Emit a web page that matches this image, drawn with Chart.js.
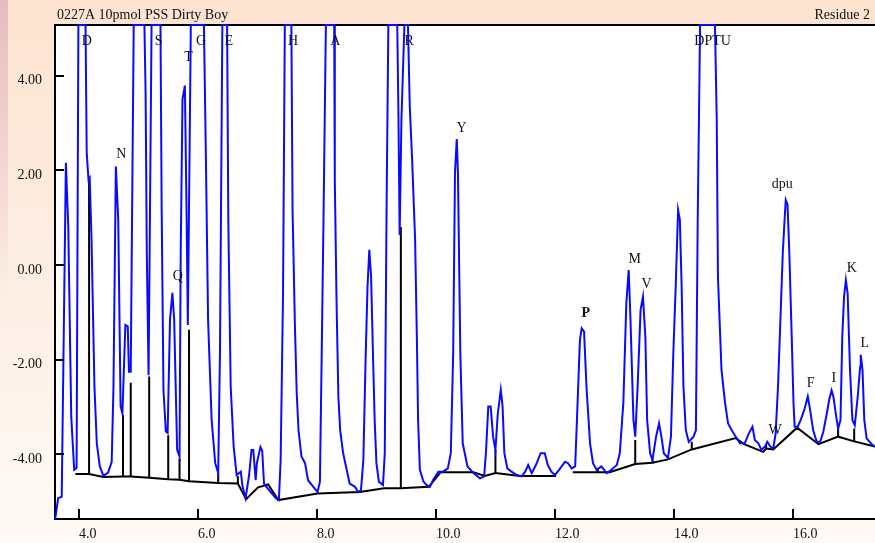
<!DOCTYPE html>
<html>
<head>
<meta charset="utf-8">
<script src="https://cdn.jsdelivr.net/npm/chart.js@4.4.1/dist/chart.umd.min.js"></script>
<style>
  html, body { margin: 0; padding: 0; background: #fff; }
  #wrap { width: 875px; height: 543px; }
</style>
</head>
<body>
<div id="wrap"><canvas id="myChart" width="875" height="543"></canvas></div>
<script>
// chromatogram trace (minutes, signal); 5.07 = saturated / off-scale
const traceX = [
  3.60, 3.65, 3.71, 3.78, 3.82, 3.87, 3.92, 3.96, 3.99, 4.11, 4.13, 4.16, 4.18, 4.21, 4.26, 4.30,
  4.35, 4.41, 4.49, 4.55, 4.58, 4.62, 4.66, 4.70, 4.73, 4.78, 4.82, 4.84, 4.87, 4.92, 5.10, 5.12,
  5.14, 5.17, 5.22, 5.37, 5.39, 5.42, 5.46, 5.49, 5.53, 5.57, 5.60, 5.65, 5.69, 5.71, 5.74, 5.78,
  5.81, 5.83, 5.88, 6.10, 6.13, 6.17, 6.23, 6.29, 6.34, 6.37, 6.41, 6.49, 6.51, 6.55, 6.60, 6.65,
  6.72, 6.75, 6.80, 6.86, 6.90, 6.93, 6.97, 6.99, 7.05, 7.08, 7.11, 7.15, 7.24, 7.31, 7.36, 7.39,
  7.43, 7.46, 7.57, 7.59, 7.63, 7.66, 7.69, 7.74, 7.80, 7.85, 7.94, 8.01, 8.05, 8.08, 8.11, 8.15,
  8.29, 8.30, 8.33, 8.36, 8.39, 8.44, 8.50, 8.55, 8.64, 8.69, 8.74, 8.78, 8.82, 8.85, 8.88, 8.91,
  8.94, 8.97, 9.00, 9.04, 9.11, 9.14, 9.17, 9.20, 9.35, 9.37, 9.39, 9.42, 9.47, 9.53, 9.56, 9.60,
  9.65, 9.68, 9.70, 9.73, 9.79, 9.84, 9.90, 9.95, 10.04, 10.12, 10.20, 10.25, 10.29, 10.32, 10.35, 10.37,
  10.41, 10.45, 10.53, 10.63, 10.74, 10.81, 10.84, 10.88, 10.92, 10.96, 11.00, 11.04, 11.09, 11.12, 11.15, 11.20,
  11.27, 11.36, 11.44, 11.50, 11.55, 11.61, 11.68, 11.76, 11.83, 11.88, 11.94, 12.00, 12.07, 12.17, 12.22, 12.28,
  12.34, 12.37, 12.42, 12.45, 12.49, 12.53, 12.59, 12.64, 12.70, 12.78, 12.87, 12.95, 13.04, 13.09, 13.15, 13.20,
  13.24, 13.27, 13.32, 13.35, 13.39, 13.44, 13.48, 13.52, 13.55, 13.60, 13.64, 13.70, 13.75, 13.79, 13.83, 13.90,
  13.95, 13.99, 14.03, 14.07, 14.10, 14.13, 14.16, 14.20, 14.25, 14.33, 14.37, 14.40, 14.44, 14.69, 14.72, 14.74,
  14.80, 14.86, 14.91, 14.97, 15.04, 15.11, 15.19, 15.26, 15.32, 15.36, 15.42, 15.47, 15.53, 15.57, 15.62, 15.67,
  15.71, 15.75, 15.79, 15.83, 15.86, 15.88, 15.91, 15.94, 15.98, 16.01, 16.03, 16.08, 16.13, 16.19, 16.25, 16.29,
  16.34, 16.40, 16.46, 16.51, 16.57, 16.61, 16.65, 16.68, 16.72, 16.76, 16.80, 16.83, 16.86, 16.89, 16.92, 16.96,
  17.00, 17.04, 17.09, 17.13, 17.14, 17.17, 17.20, 17.24, 17.29, 17.34, 17.38
];
const traceY = [
  -5.37, -4.93, -4.90, 2.16, 0.81, -3.21, -4.33, -4.29, 5.07, 5.07, 2.37, 1.80, 1.84, 0.60, -2.57, -3.78,
  -4.26, -4.46, -4.39, -4.16, -2.57, 2.08, 0.95, -2.99, -3.14, -1.27, -1.30, -2.26, -2.26, 5.07, 5.07, 3.61,
  0.25, -2.33, 5.07, 5.07, 1.16, -2.64, -3.52, -3.55, -1.16, -0.59, -1.16, -3.91, -4.05, 0.25, 3.50, 3.79,
  0.95, -1.27, 5.07, 5.07, 2.57, -1.16, -3.28, -4.19, -4.40, -1.86, 5.07, 5.07, 0.95, -2.57, -3.84, -4.44,
  -4.37, -4.69, -4.93, -4.44, -3.91, -3.91, -4.55, -4.19, -3.85, -3.93, -4.62, -4.69, -4.83, -4.93, -4.97, -4.12,
  -0.60, 5.07, 5.07, 1.16, -1.30, -2.71, -3.49, -4.05, -4.19, -4.55, -4.69, -4.80, -4.58, -1.87, 0.95, 5.07,
  5.07, 1.80, -0.81, -2.78, -3.49, -3.98, -4.33, -4.62, -4.69, -4.80, -4.76, -4.12, -1.87, -0.46, 0.32, -0.25,
  -1.80, -3.28, -4.19, -4.58, -4.65, -3.98, 1.16, 5.07, 5.07, 3.13, 0.63, 3.06, 5.07, 5.07, 3.35, 2.22,
  0.53, -1.59, -3.28, -4.33, -4.58, -4.65, -4.69, -4.55, -4.37, -4.37, -4.30, -3.98, -1.87, 1.94, 2.66, 1.94,
  -1.87, -3.77, -4.26, -4.40, -4.51, -4.47, -3.98, -2.99, -2.99, -3.63, -3.91, -3.14, -2.64, -2.99, -3.98, -4.30,
  -4.37, -4.44, -4.47, -4.37, -4.23, -4.40, -4.23, -3.98, -3.98, -4.23, -4.37, -4.44, -4.33, -4.16, -4.19, -4.30,
  -4.26, -3.28, -1.59, -1.34, -1.41, -2.57, -3.77, -4.19, -4.33, -4.26, -4.40, -4.33, -4.23, -3.98, -2.92, -0.81,
  -0.11, -1.16, -3.28, -3.63, -2.57, -0.95, -0.67, -1.52, -3.28, -3.98, -4.12, -3.63, -3.35, -3.63, -3.98, -4.08,
  -3.63, -1.87, -0.46, 1.16, 0.95, -0.46, -2.57, -3.49, -3.74, -3.63, -3.49, 0.95, 5.07, 5.07, 3.06, -0.25,
  -2.22, -2.92, -3.35, -3.49, -3.63, -3.77, -3.77, -3.56, -3.42, -3.70, -3.77, -3.91, -3.84, -3.74, -3.84, -3.88,
  -3.56, -2.57, -1.16, 0.25, 0.95, 1.37, 1.27, 0.25, -1.52, -2.92, -3.42, -3.42, -3.28, -3.07, -2.78, -3.07,
  -3.49, -3.74, -3.74, -3.53, -3.14, -2.85, -2.65, -2.78, -3.14, -3.46, -3.28, -1.52, -0.67, -0.32, -0.60, -2.22,
  -3.28, -3.39, -2.78, -2.15, -1.90, -2.22, -3.28, -3.67, -3.74, -3.81, -3.84
];

// integration baseline (null = break)
const baseX = [3.94, 4.17, 4.41, 4.74, 4.87, 5.18, 5.50, 5.69, 5.85, 6.34, 6.67, 6.81, 7.01, 7.18, 7.35,
  8.01, 8.72, 9.13, 9.41, 9.88, 10.08, 10.63, 10.82, 11.00, 11.41, 12.02, 12.15, 12.30, 12.92, 13.35,
  13.64, 13.90, 14.30, 15.04, 15.18, 15.50, 15.55, 15.67, 16.07, 16.43, 16.76, 17.03, 17.38];
const baseY = [-4.42, -4.42, -4.48, -4.47, -4.47, -4.50, -4.53, -4.54, -4.57, -4.61, -4.62, -4.95, -4.70, -4.64, -4.97,
  -4.83, -4.80, -4.72, -4.72, -4.69, -4.38, -4.38, -4.46, -4.40, -4.46, -4.46, null, -4.38, -4.38, -4.21,
  -4.18, -4.11, -3.90, -3.66, -3.79, -3.95, -3.88, -3.90, -3.44, -3.79, -3.63, -3.73, -3.84];

// peak drop lines
const dropX = [4.17, 4.74, 4.87, 5.18, 5.50, 5.69, 5.85, 6.34, 6.67, 9.41, 11.00, 12.72, 13.35, 13.64, 14.30, 15.55, 16.76, 17.03];
const dropLow = [-4.42, -4.47, -4.47, -4.50, -4.53, -4.54, -4.57, -4.61, -4.62, -4.72, -4.40, -4.38, -4.21, -4.18, -3.90, -3.88, -3.63, -3.73];
const dropHigh = [1.80, -3.17, -2.49, -2.36, -3.60, -4.09, -1.37, -4.41, -4.46, 0.80, -3.91, -4.30, -3.70, -4.12, -3.74, -3.80, -3.46, -3.46];

// peak names and where their labels sit
const peakNames = ["D", "S", "T", "G", "E", "N", "Q", "H", "A", "R", "Y", "P", "M", "V", "DPTU", "dpu", "W", "F", "I", "K", "L"];
const peakLabelX = [4.13, 5.34, 5.84, 6.05, 6.52, 4.71, 5.66, 7.60, 8.31, 9.55, 10.43, 12.52, 13.34, 13.54, 14.65, 15.82, 15.70, 16.30, 16.69, 16.99, 17.21];
const peakLabelY = [4.72, 4.72, 4.39, 4.72, 4.72, 2.33, -0.25, 4.72, 4.72, 4.72, 2.88, -1.02, 0.11, -0.41, 4.72, 1.71, -3.49, -2.50, -2.40, -0.07, -1.66];

const xTicks = [4, 6, 8, 10, 12, 14, 16];
const yTicks = [-4, -2, 0, 2, 4];

const FONT = "'Liberation Serif', 'Times New Roman', serif";

function drawChart() {
  const trace = traceX.map((x, i) => ({ x: x, y: traceY[i] }));
  const base = baseX.map((x, i) => ({ x: x, y: baseY[i] }));
  const drops = [];
  dropX.forEach((x, i) => {
    drops.push({ x: x, y: dropLow[i] });
    drops.push({ x: x, y: dropHigh[i] });
    drops.push({ x: x, y: null });
  });

  const chrome = {
    id: "chrome",
    beforeDraw(chart) {
      const { ctx, chartArea: a, width, height } = chart;
      ctx.save();
      const g = ctx.createLinearGradient(0, 0, 0, height);
      g.addColorStop(0, "#fde3d0");
      g.addColorStop(0.5, "#fdeee4");
      g.addColorStop(1, "#fffaf7");
      ctx.fillStyle = g;
      ctx.fillRect(0, 0, width, height);
      const s = ctx.createLinearGradient(0, 0, 0, 300);
      s.addColorStop(0, "rgba(205,140,170,0.45)");
      s.addColorStop(1, "rgba(205,140,170,0)");
      ctx.fillStyle = s;
      ctx.fillRect(0, 0, 8, 300);
      ctx.fillStyle = "#ffffff";
      ctx.fillRect(a.left, a.top, a.right - a.left, a.bottom - a.top);
      // top rule under the title bar
      ctx.strokeStyle = "#000";
      ctx.lineWidth = 2;
      ctx.beginPath();
      ctx.moveTo(a.left - 1, a.top);
      ctx.lineTo(width, a.top);
      ctx.stroke();
      ctx.fillStyle = "#111";
      ctx.font = "14px " + FONT;
      ctx.textBaseline = "alphabetic";
      ctx.textAlign = "left";
      ctx.fillText("0227A 10pmol PSS Dirty Boy", 57, 19);
      ctx.textAlign = "right";
      ctx.fillText("Residue 2", 870, 19);
      ctx.restore();
    },
    afterDraw(chart) {
      const { ctx, chartArea: a, scales } = chart;
      ctx.save();
      // inward tick marks
      ctx.strokeStyle = "#000";
      ctx.lineWidth = 2;
      ctx.beginPath();
      yTicks.forEach((v) => {
        const py = Math.round(scales.y.getPixelForValue(v));
        ctx.moveTo(a.left, py);
        ctx.lineTo(a.left + 9, py);
      });
      xTicks.forEach((v) => {
        const px = Math.round(scales.x.getPixelForValue(v));
        ctx.moveTo(px, a.bottom);
        ctx.lineTo(px, a.bottom - 10);
      });
      ctx.stroke();
      // peak labels
      ctx.fillStyle = "#111";
      ctx.textAlign = "center";
      ctx.textBaseline = "middle";
      peakNames.forEach((name, i) => {
        ctx.font = (name === "P" ? "bold " : "") + "14px " + FONT;
        ctx.fillText(name, scales.x.getPixelForValue(peakLabelX[i]), scales.y.getPixelForValue(peakLabelY[i]));
      });
      ctx.restore();
    },
  };

  const ctx = document.getElementById("myChart").getContext("2d");
  const myChart = new Chart(ctx, {
    type: "scatter",
    data: {
      datasets: [
        {
          label: "baseline",
          data: base,
          showLine: true,
          borderColor: "#000",
          borderWidth: 2,
          pointRadius: 0,
          spanGaps: false,
          order: 2,
        },
        {
          label: "drops",
          data: drops,
          showLine: true,
          borderColor: "#000",
          borderWidth: 2,
          pointRadius: 0,
          spanGaps: false,
          order: 3,
        },
        {
          label: "signal",
          data: trace,
          showLine: true,
          borderColor: "#0a0aff",
          borderWidth: 2,
          pointRadius: 0,
          tension: 0,
          clip: 3,
          order: 1,
        },
      ],
    },
    options: {
      responsive: false,
      animation: false,
      layout: { padding: { top: 25, right: 0, bottom: 0, left: 0 } },
      plugins: {
        legend: { display: false },
        tooltip: { enabled: false },
      },
      scales: {
        x: {
          type: "linear",
          min: 3.597,
          max: 17.38,
          afterBuildTicks: (scale) => {
            scale.ticks = xTicks.map((v) => ({ value: v }));
          },
          afterFit: (scale) => {
            scale.height = 24;
          },
          grid: { display: false, drawTicks: false },
          border: { display: true, color: "#000", width: 2 },
          ticks: {
            align: "start",
            autoSkip: false,
            maxRotation: 0,
            minRotation: 0,
            padding: 7,
            color: "#111",
            font: { family: FONT, size: 14 },
            callback: (v) => Number(v).toFixed(1),
          },
        },
        y: {
          type: "linear",
          min: -5.37,
          max: 5.07,
          afterBuildTicks: (scale) => {
            scale.ticks = yTicks.map((v) => ({ value: v }));
          },
          afterFit: (scale) => {
            scale.width = 55;
          },
          grid: { display: false, drawTicks: false },
          border: { display: true, color: "#000", width: 2 },
          ticks: {
            padding: 13,
            labelOffset: 5,
            autoSkip: false,
            color: "#111",
            font: { family: FONT, size: 14 },
            callback: (v) => Number(v).toFixed(2),
          },
        },
      },
    },
    plugins: [chrome],
  });
}

drawChart();
</script>
</body>
</html>
